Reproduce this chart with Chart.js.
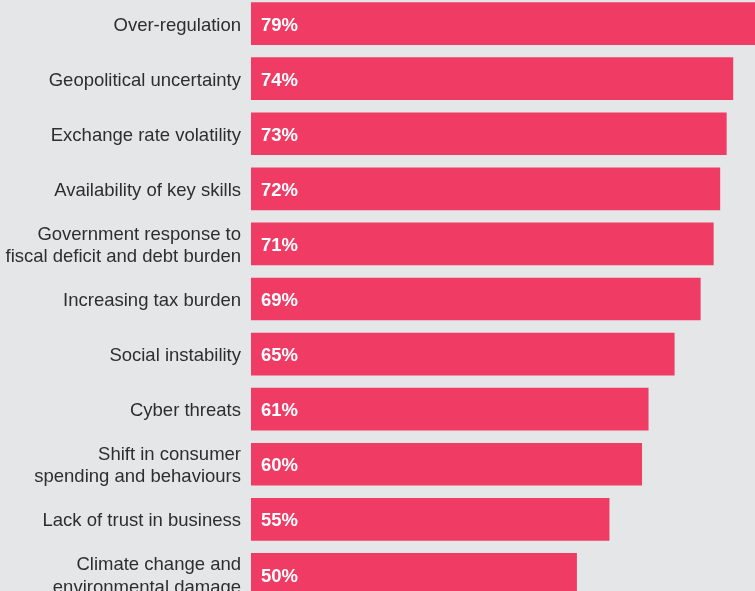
<!DOCTYPE html>
<html>
<head>
<meta charset="utf-8">
<script src="https://cdn.jsdelivr.net/npm/chart.js@4"></script>
<style>
    html, body {
        margin: 0;
        padding: 0;
        background: #e5e6e8;
        overflow: hidden;
    }
    #chartBox {
        position: absolute;
        left: 0;
        top: -4px;
        width: 755px;
        height: 606px;
    }
</style>
</head>
<body>
<div id="chartBox"><canvas id="riskChart"></canvas></div>
<script>
// Chart data
const categories = [
    'Over-regulation',
    'Geopolitical uncertainty',
    'Exchange rate volatility',
    'Availability of key skills',
    ['Government response to', 'fiscal deficit and debt burden'],
    'Increasing tax burden',
    'Social instability',
    'Cyber threats',
    ['Shift in consumer', 'spending and behaviours'],
    'Lack of trust in business',
    ['Climate change and', 'environmental damage']
];
const concernValues = [79, 74, 73, 72, 71, 69, 65, 61, 60, 55, 50];

const barColor = '#f03c64';
const textColor = '#2e2e2e';
const fontFamily = '"Liberation Sans", Arial, Helvetica, sans-serif';

// Draws the percentage inside each bar, near its start
const valueLabels = {
    id: 'valueLabels',
    afterDatasetsDraw(chart) {
        const ctx = chart.ctx;
        const meta = chart.getDatasetMeta(0);
        ctx.save();
        ctx.fillStyle = '#ffffff';
        ctx.font = 'bold 18.5px ' + fontFamily;
        ctx.textAlign = 'left';
        ctx.textBaseline = 'middle';
        meta.data.forEach((bar, i) => {
            ctx.fillText(concernValues[i] + '%', bar.base + 10, bar.y + 2);
        });
        ctx.restore();
    }
};

const ctx = document.getElementById('riskChart').getContext('2d');

new Chart(ctx, {
    type: 'bar',
    data: {
        labels: categories,
        datasets: [{
            data: concernValues,
            backgroundColor: barColor,
            borderWidth: 0,
            barThickness: 42,
            categoryPercentage: 1,
            barPercentage: 1
        }]
    },
    options: {
        indexAxis: 'y',
        responsive: true,
        maintainAspectRatio: false,
        animation: false,
        layout: {
            padding: 0
        },
        plugins: {
            legend: { display: false },
            title: { display: false },
            tooltip: { enabled: false }
        },
        scales: {
            x: {
                display: false,
                min: 0,
                max: 77.4
            },
            y: {
                grid: { display: false, drawTicks: false, tickLength: 0 },
                border: { display: false },
                ticks: {
                    color: textColor,
                    padding: 10,
                    labelOffset: 2,
                    font: {
                        family: fontFamily,
                        size: 18.5,
                        lineHeight: 1.2
                    }
                },
                afterFit: function(scale) {
                    // fixed label column, no extra room for label overflow
                    scale.width = 251;
                    scale.paddingTop = 0;
                    scale.paddingBottom = 0;
                }
            }
        }
    },
    plugins: [valueLabels]
});
</script>
</body>
</html>
